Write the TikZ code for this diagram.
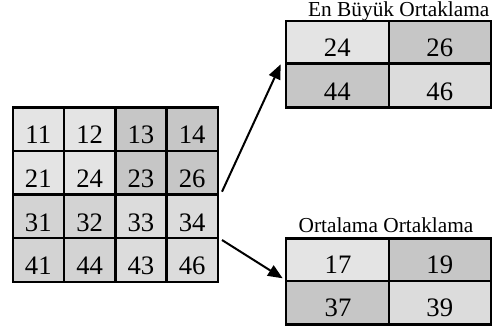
\documentclass[tikz,border=0pt]{standalone}
\usepackage{fontspec}
\setmainfont{Liberation Serif}
\usetikzlibrary{arrows.meta}

\tikzset{every picture/.style={line width=0.75pt}}

\definecolor{cellLight}{RGB}{228,228,228}
\definecolor{cellDark}{RGB}{198,198,198}
\definecolor{cellMid}{RGB}{211,211,211}
\definecolor{cellPale}{RGB}{220,220,220}

\begin{document}
\begin{tikzpicture}[x=0.75pt,y=0.75pt,yscale=-1,xscale=1,
    cell/.style={draw=black,line width=1.8},
    num/.style={inner sep=0.75pt,font=\fontsize{20}{20}\selectfont},
    ttl/.style={inner sep=0.75pt,anchor=base,font=\fontsize{16}{16}\selectfont},
    arr/.style={line width=1.5,-{Triangle[length=11pt,width=9pt]}}]
        %set diagram left start at 0, and has height of 329
        \useasboundingbox (0,0) rectangle (492,329);

        %Shape: Input grid, row 1
        \draw [cell,fill=cellLight] (12.7,107.3) rectangle (64,150.9);
        \draw [cell,fill=cellLight] (64,107.3) rectangle (115.3,150.9);
        \draw [cell,fill=cellDark] (115.3,107.3) rectangle (166.5,150.9);
        \draw [cell,fill=cellDark] (166.5,107.3) rectangle (217.7,150.9);
        %Shape: Input grid, row 2
        \draw [cell,fill=cellLight] (12.7,150.9) rectangle (64,194.5);
        \draw [cell,fill=cellLight] (64,150.9) rectangle (115.3,194.5);
        \draw [cell,fill=cellDark] (115.3,150.9) rectangle (166.5,194.5);
        \draw [cell,fill=cellDark] (166.5,150.9) rectangle (217.7,194.5);
        %Shape: Input grid, row 3
        \draw [cell,fill=cellMid] (12.7,194.5) rectangle (64,238.1);
        \draw [cell,fill=cellMid] (64,194.5) rectangle (115.3,238.1);
        \draw [cell,fill=cellPale] (115.3,194.5) rectangle (166.5,238.1);
        \draw [cell,fill=cellPale] (166.5,194.5) rectangle (217.7,238.1);
        %Shape: Input grid, row 4
        \draw [cell,fill=cellMid] (12.7,238.1) rectangle (64,281.7);
        \draw [cell,fill=cellMid] (64,238.1) rectangle (115.3,281.7);
        \draw [cell,fill=cellPale] (115.3,238.1) rectangle (166.5,281.7);
        \draw [cell,fill=cellPale] (166.5,238.1) rectangle (217.7,281.7);

        %Text Node: input values
        \draw (38.3,135) node (n11) [num] {11};
        \draw (89.6,135) node (n12) [num] {12};
        \draw (140.9,135) node (n13) [num] {13};
        \draw (192.1,135) node (n14) [num] {14};
        \draw (38.3,178.7) node (n21) [num] {21};
        \draw (89.6,178.7) node (n22) [num] {24};
        \draw (140.9,178.7) node (n23) [num] {23};
        \draw (192.1,178.7) node (n24) [num] {26};
        \draw (38.3,222.3) node (n31) [num] {31};
        \draw (89.6,222.3) node (n32) [num] {32};
        \draw (140.9,222.3) node (n33) [num] {33};
        \draw (192.1,222.3) node (n34) [num] {34};
        \draw (38.3,265.9) node (n41) [num] {41};
        \draw (89.6,265.9) node (n42) [num] {44};
        \draw (140.9,265.9) node (n43) [num] {43};
        \draw (192.1,265.9) node (n44) [num] {46};

        %Shape: Max pooling grid
        \draw [cell,fill=cellLight] (285.7,20.7) rectangle (389,63.3);
        \draw [cell,fill=cellDark] (389,20.7) rectangle (490.7,63.3);
        \draw [cell,fill=cellDark] (285.7,63.3) rectangle (389,107.3);
        \draw [cell,fill=cellPale] (389,63.3) rectangle (490.7,107.3);
        %Text Node: max pooling values
        \draw (337.3,48) node (m11) [num] {24};
        \draw (439.8,48) node (m12) [num] {26};
        \draw (337.3,91.3) node (m21) [num] {44};
        \draw (439.8,91.3) node (m22) [num] {46};
        %Text Node: max pooling title
        \draw (398.8,16) node (maxttl) [ttl] {En Büyük Ortaklama};

        %Shape: Average pooling grid
        \draw [cell,fill=cellLight] (286,238.3) rectangle (389,281);
        \draw [cell,fill=cellDark] (389,238.3) rectangle (490.7,281);
        \draw [cell,fill=cellDark] (286,281) rectangle (389,324.3);
        \draw [cell,fill=cellPale] (389,281) rectangle (490.7,324.3);
        %Text Node: average pooling values
        \draw (338,264.5) node (a11) [num] {17};
        \draw (439.8,264.5) node (a12) [num] {19};
        \draw (338,307.5) node (a21) [num] {37};
        \draw (439.8,307.5) node (a22) [num] {39};
        %Text Node: average pooling title
        \draw (386,232.7) node (avgttl) [ttl] {Ortalama Ortaklama};

        %Straight Lines: arrows to both results
        \coordinate (upfrom) at (222,191.7);
        \coordinate (upto) at (280.7,64.3);
        \coordinate (dnfrom) at (222,240);
        \coordinate (dnto) at (282.7,278.3);
        \draw [arr] (upfrom) -- (upto);
        \draw [arr] (dnfrom) -- (dnto);

\end{tikzpicture}
\end{document}
